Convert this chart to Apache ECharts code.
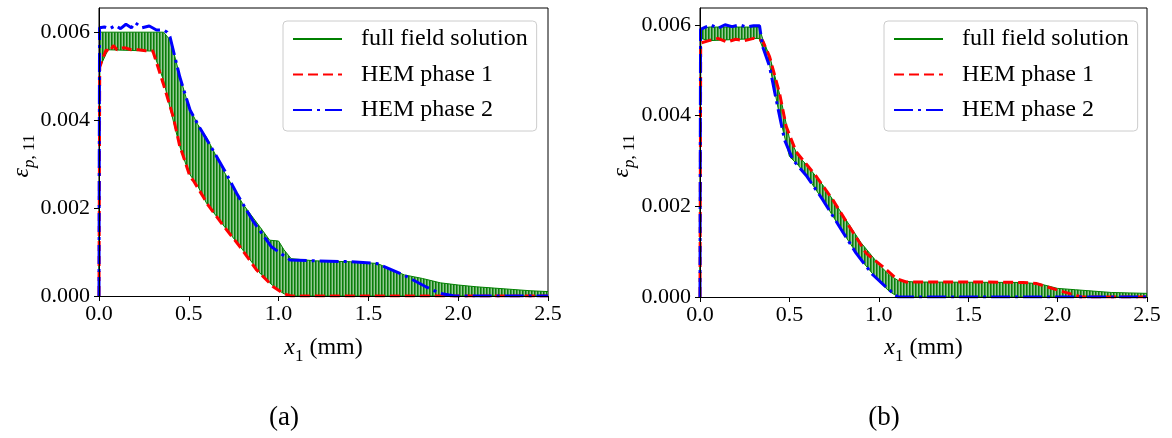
<!DOCTYPE html>
<html><head><meta charset="utf-8">
<script src="https://cdn.jsdelivr.net/npm/echarts@6/dist/echarts.min.js"></script>
<style>html,body{margin:0;padding:0;background:#fff}#c{width:1172px;height:438px}</style>
</head><body><div id="c"></div>
<script>
// ---------- shared ticks / names ----------
const xTicks = [0, 0.5, 1.0, 1.5, 2.0, 2.5];
const yTicks = [0, 0.002, 0.004, 0.006];
const seriesNames = ['full field solution', 'HEM phase 1', 'HEM phase 2'];
const captions = ['(a)', '(b)'];

// ---------- panel (a) ----------
const aRedX = [0, 0.004, 0.02, 0.04, 0.06, 0.08, 0.1, 0.14, 0.18, 0.22, 0.26, 0.3, 0.31, 0.357, 0.413, 0.45, 0.47, 0.507, 0.526, 0.58, 0.6, 0.69, 0.785, 0.878, 0.97, 1.03, 1.07, 2.5];
const aRedY = [0, 0.0052, 0.0054, 0.0056, 0.00555, 0.0057, 0.0056, 0.00565, 0.0056, 0.0056, 0.00558, 0.00557, 0.00556, 0.00484, 0.00408, 0.0034, 0.00317, 0.00271, 0.00262, 0.00226, 0.00211, 0.00161, 0.00112, 0.00059, 0.00021, 0.00005, 0, 0];
const aBlueX = [0, 0.003, 0.03, 0.06, 0.09, 0.12, 0.15, 0.18, 0.2, 0.24, 0.28, 0.32, 0.36, 0.38, 0.395, 0.45, 0.507, 0.562, 0.63, 0.7, 0.767, 0.86, 0.96, 1.063, 1.2, 1.4, 1.546, 1.58, 1.695, 1.82, 1.9, 1.98, 2.5];
const aBlueY = [0, 0.0061, 0.00612, 0.00608, 0.00615, 0.00608, 0.00618, 0.0061, 0.00622, 0.0061, 0.00614, 0.00605, 0.00605, 0.006, 0.0059, 0.00498, 0.00423, 0.00382, 0.00335, 0.00285, 0.00233, 0.00169, 0.00112, 0.00082, 0.0008, 0.00078, 0.00074, 0.00068, 0.00048, 0.00021, 0.00006, 0, 0];
const aGreenX = [0, 0.005, 0.05, 0.3, 0.36, 0.4, 0.45, 0.5, 0.55, 0.6, 0.7, 0.8, 0.9, 0.95, 1.0, 1.03, 1.07, 1.2, 1.4, 1.55, 1.6, 1.7, 1.8, 1.9, 2.0, 2.1, 2.2, 2.3, 2.4, 2.5];
const aGreenLow = [0, 0.0052, 0.0056, 0.00557, 0.0049, 0.0042, 0.0034, 0.0028, 0.0025, 0.0021, 0.00157, 0.00105, 0.0005, 0.0003, 0.00013, 0.00005, 0, 0, 0, 0, 0, 0, 0, 0, 0, 0, 0, 0, 0, 0];
const aGreenHigh = [0, 0.006, 0.006, 0.006, 0.006, 0.0058, 0.005, 0.0043, 0.0039, 0.0036, 0.0028, 0.0021, 0.00155, 0.00127, 0.00125, 0.00105, 0.00085, 0.0008, 0.00078, 0.00074, 0.00065, 0.00048, 0.0004, 0.0003, 0.00025, 0.00021, 0.00018, 0.00015, 0.00012, 0.0001];

// ---------- panel (b) ----------
const bRedX = [0, 0.004, 0.05, 0.1, 0.15, 0.2, 0.25, 0.3, 0.35, 0.389, 0.445, 0.482, 0.538, 0.65, 0.743, 0.836, 0.93, 1.022, 1.097, 1.153, 1.4, 1.6, 1.805, 1.88, 2.01, 2.1, 2.13, 2.5];
const bRedY = [0, 0.0056, 0.00565, 0.0057, 0.00562, 0.00568, 0.00565, 0.0057, 0.00565, 0.0053, 0.00449, 0.00376, 0.0032, 0.00266, 0.00214, 0.00155, 0.00096, 0.00067, 0.00041, 0.00033, 0.00033, 0.00033, 0.00032, 0.0003, 0.00014, 0.00004, 0, 0];
const bBlueX = [0, 0.003, 0.03, 0.06, 0.1, 0.14, 0.18, 0.22, 0.26, 0.3, 0.333, 0.35, 0.389, 0.426, 0.473, 0.52, 0.594, 0.687, 0.78, 0.874, 0.966, 1.06, 1.106, 2.5];
const bBlueY = [0, 0.0059, 0.00595, 0.006, 0.00592, 0.006, 0.00596, 0.006, 0.00595, 0.00598, 0.00598, 0.00552, 0.00508, 0.00435, 0.00346, 0.00302, 0.00268, 0.00214, 0.00155, 0.00096, 0.00049, 0.00015, 0, 0];
const bGreenX = [0, 0.005, 0.05, 0.33, 0.35, 0.39, 0.45, 0.5, 0.55, 0.6, 0.7, 0.8, 0.9, 1.0, 1.06, 1.11, 1.2, 1.8, 1.9, 2.0, 2.1, 2.2, 2.3, 2.4, 2.5];
const bGreenLow = [0, 0.0057, 0.00565, 0.0057, 0.0055, 0.0051, 0.0039, 0.0031, 0.0029, 0.00265, 0.00206, 0.00142, 0.00082, 0.00035, 0.00012, 0, 0, 0, 0, 0, 0, 0, 0, 0, 0];
const bGreenHigh = [0, 0.0059, 0.00595, 0.00595, 0.0057, 0.0053, 0.0044, 0.0035, 0.0031, 0.0029, 0.0024, 0.0018, 0.0012, 0.00072, 0.00048, 0.00036, 0.00033, 0.00032, 0.00029, 0.00019, 0.00016, 0.00013, 0.0001, 0.00009, 0.00008];

// ---------- styling ----------
const FONT = 'Liberation Serif';
const zip = (xs, ys) => xs.map((x, i) => [x, ys[i]]);

function stripePattern() {
  const c = document.createElement('canvas');
  c.width = 3; c.height = 4;
  const g = c.getContext('2d');
  g.fillStyle = '#0a7d0a'; g.fillRect(0, 0, 1, 4);
  g.fillStyle = '#45a045'; g.fillRect(1, 0, 1, 4);
  g.fillStyle = '#94c994'; g.fillRect(2, 0, 1, 4);
  return c;
}
const pattern = stripePattern();

const panels = [
  { grid: { left: 99, top: 8, width: 449, height: 288 }, ymax: 0.00655,
    red: zip(aRedX, aRedY), blue: zip(aBlueX, aBlueY),
    gLow: zip(aGreenX, aGreenLow), gHigh: zip(aGreenX, aGreenHigh),
    legend: { left: 283, top: 21 }, yName: [22, 156], caption: [284, 418] },
  { grid: { left: 700, top: 8, width: 447, height: 289 }, ymax: 0.00637,
    red: zip(bRedX, bRedY), blue: zip(bBlueX, bBlueY),
    gLow: zip(bGreenX, bGreenLow), gHigh: zip(bGreenX, bGreenHigh),
    legend: { left: 884, top: 21 }, yName: [622, 156], caption: [884, 418] }
];

const option = { animation: false, grid: [], xAxis: [], yAxis: [], series: [], legend: [], graphic: [] };

panels.forEach((p, i) => {
  option.grid.push(Object.assign({ show: true, borderColor: '#000', borderWidth: 1, backgroundColor: 'transparent' }, p.grid));
  option.xAxis.push({
    gridIndex: i, type: 'value', min: 0, max: 2.5, z: 10,
    axisLine: { show: true, onZero: false, lineStyle: { color: '#000', width: 1 } },
    axisTick: { show: true, length: 5, customValues: xTicks, lineStyle: { color: '#000' } },
    axisLabel: { customValues: xTicks, color: '#000', fontFamily: FONT, fontSize: 22, margin: 7, formatter: v => v.toFixed(1) },
    splitLine: { show: false }
  });
  option.yAxis.push({
    gridIndex: i, type: 'value', min: 0, max: p.ymax, z: 10,
    axisLine: { show: true, onZero: false, lineStyle: { color: '#000', width: 1 } },
    axisTick: { show: true, length: 5, customValues: yTicks, lineStyle: { color: '#000' } },
    axisLabel: { customValues: yTicks, color: '#000', fontFamily: FONT, fontSize: 22, margin: 9, formatter: v => v.toFixed(3) },
    splitLine: { show: false }
  });
  // green band: striped area up to the peaks, white cover below the troughs
  option.series.push({
    type: 'line', name: seriesNames[0], xAxisIndex: i, yAxisIndex: i,
    data: p.gHigh, symbol: 'none', silent: true, z: 2, color: '#008000',
    lineStyle: { color: '#008000', width: 1 },
    areaStyle: { color: { image: pattern, repeat: 'repeat' }, opacity: 1, origin: 'start' }
  });
  option.series.push({
    type: 'line', name: 'ffs-low-' + i, xAxisIndex: i, yAxisIndex: i,
    data: p.gLow, symbol: 'none', silent: true, z: 2.5,
    lineStyle: { color: '#008000', width: 1 },
    areaStyle: { color: '#ffffff', opacity: 1, origin: 'start' }
  });
  option.series.push({
    type: 'line', name: seriesNames[1], xAxisIndex: i, yAxisIndex: i,
    data: p.red, symbol: 'none', silent: true, z: 3, color: '#ff0000',
    lineStyle: { color: '#ff0000', width: 3, type: [10, 5] }
  });
  option.series.push({
    type: 'line', name: seriesNames[2], xAxisIndex: i, yAxisIndex: i,
    data: p.blue, symbol: 'none', silent: true, z: 4, color: '#0000ff',
    lineStyle: { color: '#0000ff', width: 3, type: [19, 5, 3, 5] }
  });
  option.legend.push({
    left: p.legend.left, top: p.legend.top, orient: 'vertical', selectedMode: false,
    data: seriesNames, itemWidth: 49, itemHeight: 14, itemGap: 11.5,
    itemStyle: { opacity: 0 },
    padding: [6, 9, 9, 9], borderColor: '#cccccc', borderWidth: 1, borderRadius: 4,
    backgroundColor: 'rgba(255,255,255,0.85)',
    textStyle: { fontFamily: FONT, fontSize: 24, lineHeight: 23, color: '#000', padding: [0, 0, 0, 14] }
  });
  // x-axis name
  option.graphic.push({
    type: 'text', x: p.grid.left + p.grid.width / 2, y: 336,
    style: {
      text: '{x|x}{s|1}{t| (mm)}', align: 'center', verticalAlign: 'top',
      rich: {
        x: { fontFamily: FONT, fontStyle: 'italic', fontSize: 24, lineHeight: 25, verticalAlign: 'top', fill: '#000' },
        s: { fontFamily: FONT, fontSize: 17, lineHeight: 16, padding: [12, 0, 0, 0], verticalAlign: 'top', fill: '#000' },
        t: { fontFamily: FONT, fontSize: 24, lineHeight: 25, verticalAlign: 'top', fill: '#000' }
      }
    }
  });
  // y-axis name
  option.graphic.push({
    type: 'text', x: p.yName[0], y: p.yName[1], rotation: Math.PI / 2,
    style: {
      text: '{e|ε}{p|p}{s|, 11}', align: 'center', verticalAlign: 'middle',
      rich: {
        e: { fontFamily: FONT, fontStyle: 'italic', fontSize: 24, lineHeight: 25, verticalAlign: 'top', fill: '#000' },
        p: { fontFamily: FONT, fontStyle: 'italic', fontSize: 17, lineHeight: 16, padding: [12, 0, 0, 0], verticalAlign: 'top', fill: '#000' },
        s: { fontFamily: FONT, fontSize: 17, lineHeight: 16, padding: [12, 0, 0, 0], verticalAlign: 'top', fill: '#000' }
      }
    }
  });
  // caption
  option.graphic.push({
    type: 'text', x: p.caption[0], y: p.caption[1],
    style: { text: captions[i], fontFamily: FONT, fontSize: 27, fill: '#000', align: 'center', verticalAlign: 'middle' }
  });
});

const chart = echarts.init(document.getElementById('c'), null, { renderer: 'canvas' });
chart.setOption(option);
</script>
</body></html>
